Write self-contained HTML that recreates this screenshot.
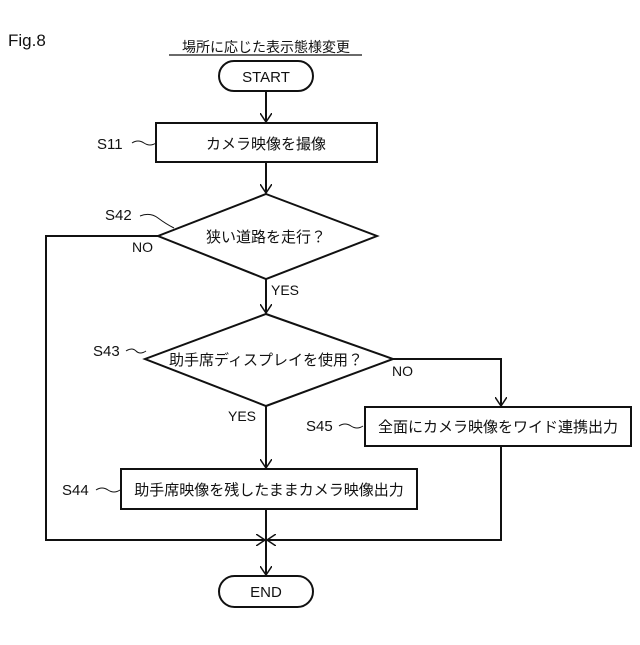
<!DOCTYPE html>
<html><head><meta charset="utf-8"><style>
body{margin:0;background:#fff;}
svg text{font-family:"Liberation Sans","Noto Sans CJK JP",sans-serif;fill:#111;}
</style></head><body>
<svg width="640" height="640" viewBox="0 0 640 640" xmlns="http://www.w3.org/2000/svg">
<defs><marker id="a" markerWidth="10" markerHeight="12" refX="9" refY="6" orient="auto" markerUnits="userSpaceOnUse"><path d="M0,0 L9,6 L0,12" fill="none" stroke="#111" stroke-width="1.5"/></marker></defs>
<g stroke="#111" stroke-width="2" fill="none">
<text x="8" y="46" font-size="17" stroke="none">Fig.8</text>
<text x="266" y="52" font-size="14" text-anchor="middle" stroke="none">場所に応じた表示態様変更</text>
<line x1="169" y1="55" x2="362" y2="55" stroke-width="1.2"/>
<rect x="219" y="61" width="94" height="30" rx="15"/>
<text x="266" y="82" font-size="15" text-anchor="middle" stroke="none">START</text>
<line x1="266" y1="91" x2="266" y2="122" marker-end="url(#a)"/>
<rect x="156" y="123" width="221" height="39"/>
<text x="266" y="149" font-size="15" text-anchor="middle" stroke="none">カメラ映像を撮像</text>
<text x="97" y="149" font-size="15" stroke="none">S11</text>
<path d="M132,143 q6,-4 12,0 t12,0" stroke-width="1"/>
<line x1="266" y1="162" x2="266" y2="193" marker-end="url(#a)"/>
<polygon points="266,194 377,236 266,279 158,236"/>
<text x="266" y="242" font-size="15" text-anchor="middle" stroke="none">狭い道路を走行？</text>
<text x="105" y="220" font-size="15" stroke="none">S42</text>
<path d="M140,216 q10,-4 18,2 t16,10" stroke-width="1"/>
<text x="132" y="252" font-size="14" stroke="none">NO</text>
<polyline points="158,236 46,236 46,540 265,540" marker-end="url(#a)"/>
<line x1="266" y1="279" x2="266" y2="313" marker-end="url(#a)"/>
<text x="271" y="295" font-size="14" stroke="none">YES</text>
<polygon points="266,314 393,359 266,406 145,359"/>
<text x="266" y="365" font-size="15" text-anchor="middle" stroke="none">助手席ディスプレイを使用？</text>
<text x="93" y="356" font-size="15" stroke="none">S43</text>
<path d="M126,351 q6,-4 10,0 t10,0" stroke-width="1"/>
<polyline points="393,359 501,359 501,406" marker-end="url(#a)"/>
<text x="392" y="376" font-size="14" stroke="none">NO</text>
<text x="228" y="421" font-size="14" stroke="none">YES</text>
<line x1="266" y1="406" x2="266" y2="468" marker-end="url(#a)"/>
<rect x="365" y="407" width="266" height="39"/>
<text x="498" y="432" font-size="15" text-anchor="middle" stroke="none">全面にカメラ映像をワイド連携出力</text>
<text x="306" y="431" font-size="15" stroke="none">S45</text>
<path d="M339,426 q6,-4 12,0 t12,0" stroke-width="1"/>
<rect x="121" y="469" width="296" height="40"/>
<text x="269" y="495" font-size="15" text-anchor="middle" stroke="none">助手席映像を残したままカメラ映像出力</text>
<text x="62" y="495" font-size="15" stroke="none">S44</text>
<path d="M96,490 q6,-4 12,0 t12,0" stroke-width="1"/>
<line x1="266" y1="509" x2="266" y2="575" marker-end="url(#a)"/>
<polyline points="501,446 501,540 267,540" marker-end="url(#a)"/>
<rect x="219" y="576" width="94" height="31" rx="15.5"/>
<text x="266" y="597" font-size="15" text-anchor="middle" stroke="none">END</text>
</g>
</svg>
</body></html>
